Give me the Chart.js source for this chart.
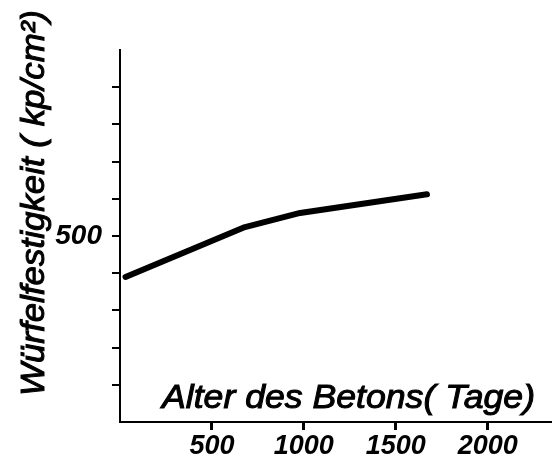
<!DOCTYPE html>
<html>
<head>
<meta charset="utf-8">
<script src="https://cdn.jsdelivr.net/npm/chart.js@4"></script>
<style>
  html, body { margin: 0; padding: 0; background: #fff; }
</style>
</head>
<body>
<canvas id="chart" width="552" height="466"></canvas>
<script>
// Data
const ageDays = [30, 680, 980, 1670];
const strength = [445, 512, 531, 556];
const xTicks = [500, 1000, 1500, 2000];
const yTicks = [300, 350, 400, 450, 500, 550, 600, 650, 700];
const yLabelled = [500];
const xTitle = 'Alter des Betons( Tage)';
const yTitle = 'Würfelfestigkeit ( kp/cm²)';

const handFont = '"Liberation Sans", "DejaVu Sans", sans-serif';

// squeeze a string into a given width, like the narrow lettering of the drawing
function fitText(ctx, text, x, y, width) {
    const w = ctx.measureText(text).width;
    ctx.save();
    ctx.translate(x, y);
    ctx.scale(width / w, 1);
    ctx.fillText(text, 0, 0);
    ctx.lineWidth = 1;
    ctx.strokeText(text, 0, 0); // pen strokes are heavier than the regular face
    ctx.restore();
}

// axis titles sit where the draughtsman put them, not where Chart.js would
const handTitles = {
    id: 'handTitles',
    afterDraw(chart) {
        const ctx = chart.ctx;
        ctx.save();
        ctx.fillStyle = '#000';
        ctx.strokeStyle = '#000';
        ctx.textBaseline = 'alphabetic';
        ctx.textAlign = 'left';
        ctx.font = 'italic 33px ' + handFont;
        fitText(ctx, xTitle, 162, 408, 373);

        ctx.translate(44, 396);
        ctx.rotate(-Math.PI / 2);
        ctx.font = 'italic 34px ' + handFont;
        fitText(ctx, yTitle, 0, 0, 386);
        ctx.restore();
    }
};

const ctx = document.getElementById('chart').getContext('2d');
new Chart(ctx, {
    type: 'line',
    data: {
        datasets: [{
            data: ageDays.map((d, i) => ({ x: d, y: strength[i] })),
            borderColor: '#000',
            borderWidth: 6,
            borderCapStyle: 'round',
            borderJoinStyle: 'round',
            pointRadius: 0,
            tension: 0,
            fill: false
        }]
    },
    options: {
        responsive: false,
        animation: false,
        devicePixelRatio: 1,
        layout: { padding: { top: 50, left: 0, right: 0, bottom: 0 } },
        plugins: {
            legend: { display: false },
            tooltip: { enabled: false }
        },
        scales: {
            x: {
                type: 'linear',
                min: 0,
                max: 2350,
                afterBuildTicks: s => { s.ticks = xTicks.map(v => ({ value: v })); },
                afterFit: s => { s.height = 44; },
                ticks: {
                    color: '#000',
                    padding: 0,
                    maxRotation: 0,
                    autoSkip: false,
                    font: { family: handFont, size: 27, style: 'italic', weight: 'bold' },
                    callback: v => String(v)
                },
                grid: { drawOnChartArea: false, tickLength: 8, color: '#000', lineWidth: 3 },
                border: { color: '#000', width: 2 }
            },
            y: {
                type: 'linear',
                min: 250,
                max: 750,
                afterBuildTicks: s => { s.ticks = yTicks.map(v => ({ value: v })); },
                afterFit: s => { s.width = 120; },
                ticks: {
                    color: '#000',
                    padding: 10,
                    autoSkip: false,
                    font: { family: handFont, size: 28, style: 'italic', weight: 'bold' },
                    callback: v => yLabelled.includes(v) ? String(v) : ''
                },
                grid: { drawOnChartArea: false, tickLength: 8, color: '#000', lineWidth: 2 },
                border: { color: '#000', width: 2 }
            }
        }
    },
    plugins: [handTitles]
});
</script>
</body>
</html>
